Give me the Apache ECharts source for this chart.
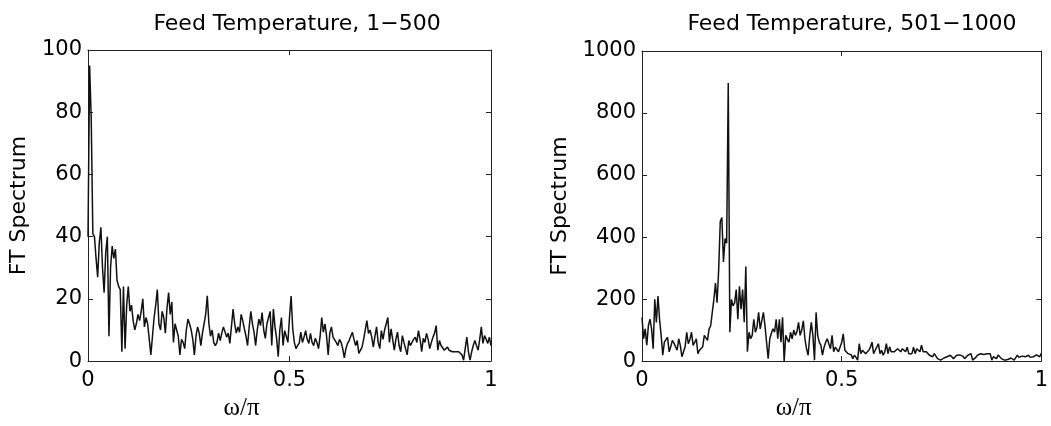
<!DOCTYPE html>
<html>
<head>
<meta charset="utf-8">
<script src="https://cdn.jsdelivr.net/npm/echarts@6/dist/echarts.min.js"></script>
<style>html,body{margin:0;padding:0;background:#fff;}#c{width:1051px;height:426px;}</style>
</head>
<body>
<div id="c"></div>
<script>
// ---- data ----
const titles = ["Feed Temperature, 1\u2212500", "Feed Temperature, 501\u22121000"];
const yName = "FT Spectrum";
const xName = "\u03c9/\u03c0";
const xTicks = [0, 0.5, 1];
const yTicksLeft = [0, 20, 40, 60, 80, 100];
const yTicksRight = [0, 200, 400, 600, 800, 1000];

const spectrumLeft = [
40,95,78,41,40,33,27,38,43,30, 22,35,40,8,30,37,33,36,26,24,
23,3,24,4,18,24,16,18,13,10, 12,15,13,16,20,11,14,12,7,2,
8,14,18,23,12,10,16,14,9,17, 22,15,19,6,12,10,8,2,7,6,
4,10,13.5,12,10,7,2,8,11,9, 5,9,12,15,21,12,8,10,6,5,
6,9,6.6,9,11,11,7.7,9,5.7,6, 16.7,12,9,11,9.3,15,13,10.4,8,5,
11,16,12,9.3,5,10,13.5,11.4,15.6,10, 7.3,12,14,16,5,16.7,11,7.3,1.4,10,
14,5,9.8,8,6,14,20.9,10.4,6,4, 5,5.7,9.3,6,7.7,9.8,7,5.7,8.9,6,
5,7.3,6,4,8,14,9.3,12,8,2, 9,11,7.7,8,6,5,7,6,4,1,
4,5.7,6.6,8,9.3,7,5,6.6,2.5,3, 4.5,7,10,13,8.9,10,7.7,4.5,8,11,
6,4,9.8,7,10,12,14,6,10.4,7, 3.5,7,9.3,5,3,8.2,6,4,2,6.6,
5,6,7,7.7,6,9.8,7,3,7.3,6, 8.9,7,4,6,7.7,9,11.4,3.5,6.6,5,
5,3.5,4,4.5,3.5,4,3,3.5,3,2.5, 3,2.5,2,0.3,4,7.7,3,0.3,3,5,
6.6,5,3.5,7,11,5.7,8.2,7,5.7,7.7, 5
];

const spectrumRight = [
141,72,104,51,114,135,104,40,199,125, 210,135,83,19,61,55,77,30,46,67,
58,61,35,72,50,14,30,46,93,56, 70,93,51,60,72,24,35,40,46,83,
75,67,104,114,157,199,252,188,294,450, 463,320,395,380,897,93,199,178,188,231,
135,241,167,231,125,305,30,93,72,83, 135,93,110,157,104,130,157,114,60,8,
72,90,104,93,135,72,135,61,141,0, 83,70,61,93,72,100,83,95,125,83,
100,130,72,40,19,80,125,83,3,157, 83,61,51,19,45,61,72,55,40,83,
30,45,40,30,24,60,88,35,40,24, 30,20,8,19,12,3,56,24,35,30,
24,30,35,45,61,24,35,30,56,24, 35,19,30,56,24,46,30,24,30,24,
40,35,30,40,35,30,45,24,30,24, 45,24,40,35,30,51,30,35,30,25,
19,20,14,24,20,8,12,3,8,10, 8,14,12,19,15,8,12,19,14,20,
24,15,8,14,19,14,24,3,8,12, 19,15,24,20,21,18,24,20,24,3,
14,10,8,20,24,8,10,3,8,5, 3,10,14,3,8,19,12,14,16,19,
14,15,19,12,8,14,19,20,24,14, 25
];

// ---- chart ----
const omegaL = spectrumLeft.map((_, i) => i / (spectrumLeft.length - 1));
const omegaR = spectrumRight.map((_, i) => i / (spectrumRight.length - 1));
const lineColor = '#111';
const font = 'DejaVu Sans';
const plain = v => String(v);

function xAxes(gridIndex) {
  const base = {
    type: 'value', gridIndex, min: xTicks[0], max: xTicks[xTicks.length - 1],
    interval: xTicks[1] - xTicks[0],
    axisLine: { show: true, onZero: false, lineStyle: { color: '#222', width: 1 } },
    axisTick: { show: true, inside: true, length: 5, lineStyle: { color: '#222' } },
    splitLine: { show: false }
  };
  return [
    Object.assign({}, base, {
      position: 'bottom',
      axisLabel: { show: true, color: '#000', fontFamily: font, fontSize: 21, margin: 9, formatter: plain },
      name: xName, nameLocation: 'middle', nameGap: 31,
      nameTextStyle: { fontFamily: 'Liberation Serif', fontSize: 25, color: '#000', padding: [0, 96, 0, 0] }
    }),
    Object.assign({}, base, { position: 'top', axisLabel: { show: false } })
  ];
}
function yAxes(gridIndex, ticks, gap) {
  const base = {
    type: 'value', gridIndex, min: ticks[0], max: ticks[ticks.length - 1],
    interval: ticks[1] - ticks[0],
    axisLine: { show: true, onZero: false, lineStyle: { color: '#222', width: 1 } },
    axisTick: { show: true, inside: true, length: 5, lineStyle: { color: '#222' } },
    splitLine: { show: false }
  };
  return [
    Object.assign({}, base, {
      position: 'left',
      axisLabel: { show: true, color: '#000', fontFamily: font, fontSize: 21, margin: 6, formatter: plain },
      name: yName, nameLocation: 'middle', nameGap: gap, nameRotate: 90,
      nameTextStyle: { fontFamily: font, fontSize: 22, color: '#000' }
    }),
    Object.assign({}, base, { position: 'right', axisLabel: { show: false } })
  ];
}

const option = {
  animation: false,
  backgroundColor: '#fff',
  title: [
    { text: titles[0], left: 292, top: 8, textAlign: 'center',
      textStyle: { fontFamily: font, fontSize: 22, fontWeight: 'normal', color: '#000' } },
    { text: titles[1], left: 847, top: 8, textAlign: 'center',
      textStyle: { fontFamily: font, fontSize: 22, fontWeight: 'normal', color: '#000' } }
  ],
  grid: [
    { left: 88, top: 50, width: 403, height: 315 },
    { left: 642, top: 51, width: 401, height: 315 }
  ],
  xAxis: [].concat(xAxes(0), xAxes(1)),
  yAxis: [].concat(yAxes(0, yTicksLeft, 58), yAxes(1, yTicksRight, 71)),
  series: [
    { type: 'line', xAxisIndex: 0, yAxisIndex: 0, showSymbol: false, symbol: 'none',
      data: spectrumLeft.map((v, i) => [omegaL[i], v]),
      lineStyle: { color: lineColor, width: 1.5 } },
    { type: 'line', xAxisIndex: 2, yAxisIndex: 2, showSymbol: false, symbol: 'none',
      data: spectrumRight.map((v, i) => [omegaR[i], v]),
      lineStyle: { color: lineColor, width: 1.5 } }
  ]
};
const chart = echarts.init(document.getElementById('c'), null, { renderer: 'canvas' });
chart.setOption(option);
</script>
</body>
</html>
